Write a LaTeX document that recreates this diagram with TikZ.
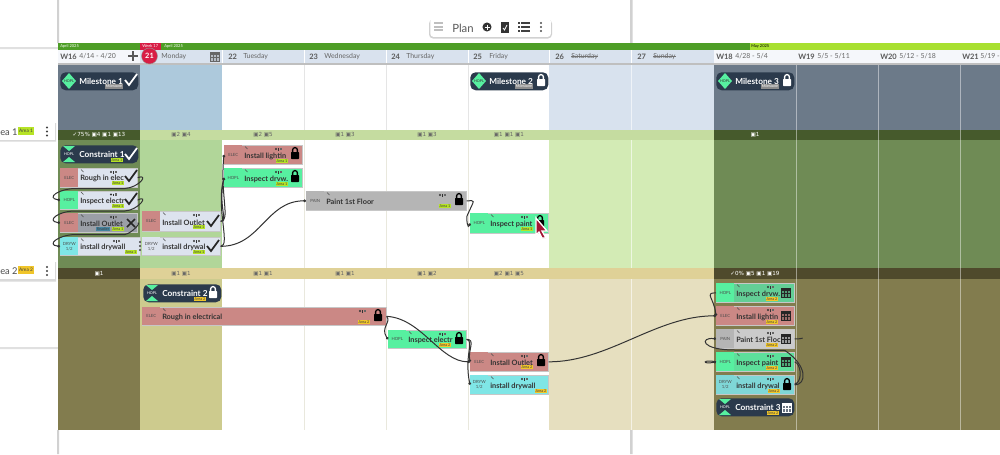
\documentclass[tikz,border=0pt]{standalone}
\usepackage{fontspec}
\setmainfont{Lato}
\newfontfamily\dv{DejaVu Sans}
\definecolor{gM}{HTML}{6C7A89}\definecolor{gB}{HTML}{465A2C}\definecolor{gR}{HTML}{6F8B55}\definecolor{gC}{HTML}{4F4A2C}\definecolor{gS}{HTML}{827C4E}
\definecolor{mM}{HTML}{ADC9DC}\definecolor{lB}{HTML}{C5DCA0}\definecolor{mR}{HTML}{B1D699}\definecolor{lC}{HTML}{DFD197}\definecolor{mS}{HTML}{CDCB8E}
\definecolor{wM}{HTML}{D8E2EE}\definecolor{wR}{HTML}{D3EBB5}\definecolor{wS}{HTML}{E6DFBF}
\definecolor{navy}{HTML}{2B3A4C}\definecolor{elec}{HTML}{CB8885}\definecolor{hopl}{HTML}{57F0A0}\definecolor{pain}{HTML}{B5B5B5}\definecolor{dryw}{HTML}{7FE6E6}\definecolor{body}{HTML}{DDE3EE}
\definecolor{pillG}{HTML}{B6E326}\definecolor{pillY}{HTML}{F0C52A}\definecolor{bar}{HTML}{4E9E27}\definecolor{barL}{HTML}{A8E030}\definecolor{hdr}{HTML}{D9E2EE}\definecolor{hdrW}{HTML}{F5F7FB}\definecolor{redd}{HTML}{D81E45}
\usetikzlibrary{arrows.meta}
\tikzset{
 card/.style={anchor=north west,inner sep=0pt,draw=black!22,line width=.5pt},
 headbox/.style={anchor=north west,inner sep=0pt,align=center,font=\fontsize{3.2}{3.8}\selectfont,text=black!70},
 ttl/.style={anchor=west,inner sep=0pt,font=\fontsize{5.5}{7}\selectfont\bfseries,text=black!80},
 wttl/.style={anchor=west,inner sep=0pt,font=\fontsize{6.2}{7}\selectfont\bfseries,text=white},
 pillbox/.style={inner sep=.5pt,font=\fontsize{2.8}{3.2}\selectfont,text=black!75,minimum height=3.6pt},
 bigpill/.style={inner sep=1pt,font=\fontsize{3.6}{4}\selectfont,text=black!75,minimum height=6pt},
 stat/.style={inner sep=0pt,font=\dv\fontsize{4.2}{5}\selectfont},
 link/.style={draw=black!80,line width=.75pt,-{Circle[length=2pt]}},
 plainlink/.style={draw=black!80,line width=.75pt},
 hd/.style={anchor=west,inner sep=0pt,font=\fontsize{5.2}{6}\selectfont,text=black!60},
 hdb/.style={anchor=west,inner sep=0pt,font=\fontsize{5.6}{6}\selectfont\bfseries,text=black!65},
 tiny/.style={anchor=west,inner sep=0pt,font=\fontsize{3}{4}\selectfont},
}
\newcommand{\lockic}[3]{\fill[#3,rounded corners=.5pt] (#1-4,#2-1) rectangle (#1+4,#2+6);\draw[#3,line width=1pt] (#1-2.4,#2-1) -- (#1-2.4,#2-3) arc[start angle=180,end angle=0,radius=1.8pt] -- (#1+2.4,#2-1);}
\newcommand{\checkic}[3]{\draw[#3,line width=1.3pt] (#1-6,#2) -- (#1-2,#2+5) -- (#1+6,#2-6);}
\newcommand{\crossic}[2]{\draw[black!85,line width=1.3pt] (#1-4,#2-4) -- (#1+4,#2+4) (#1-4,#2+4) -- (#1+4,#2-4);}
\newcommand{\calic}[3]{\draw[#3,line width=.6pt,fill=#3,fill opacity=.3] (#1-4.5,#2-4) rectangle (#1+4.5,#2+5);\fill[#3] (#1-4.5,#2-4) rectangle (#1+4.5,#2-1.5);\draw[#3,line width=.4pt] (#1-4.5,#2+1) -- (#1+4.5,#2+1) (#1-1.5,#2-1.5) -- (#1-1.5,#2+5) (#1+1.5,#2-1.5) -- (#1+1.5,#2+5);}
\newcommand{\threedots}[3]{\fill[#3] (#1,#2-4) circle (.9pt) (#1,#2) circle (.9pt) (#1,#2+4) circle (.9pt);}
% name x y w h headcolor bodycolor code title
\newcommand{\tcard}[9]{%
 \node[card,fill=#7,minimum width={#4*0.75pt},minimum height={#5*0.75pt}] (#1) at (#2,#3) {};
 \node[headbox,fill=#6,minimum width=13.5pt,minimum height={#5*0.75pt}] (#1h) at (#2,#3) {#8};
 \node[ttl] (#1t) at (#2+20,#3+#5*0.58) {#9};
 \draw[black!70,line width=.3pt] (#2+21,#3+1.5) -- +(2.5,2.5);
 \fill[black!80] (#2+#4-26,#3+4) circle (.9pt);
 \draw[black!80,line width=.4pt] (#2+#4-24,#3+3) -- +(0,2.5);
 \fill[black!60] (#2+#4-22.5,#3+2.5) rectangle +(2.5,2.5);
}
\newcommand{\pillN}[5]{\node[pillbox,fill=#3] (#5) at (#1,#2) {#4};}
\newcommand{\miles}[5]{%
 \node[anchor=north west,inner sep=0pt,fill=navy,rounded corners=4pt,minimum width=58.5pt,minimum height=13.5pt] (#1) at (#2,#3) {};
 \fill[hopl] (#2+9,#3+1) -- (#2+16,#3+9) -- (#2+9,#3+17) -- (#2+2,#3+9) -- cycle;
 \node[inner sep=0pt,font=\fontsize{2.8}{3}\selectfont,text=black!80] (#1c) at (#2+9,#3+9) {HOPL};
 \node[wttl] (#1t) at (#2+19,#3+9) {#4};
 \node[pillbox,fill=black!45,text=white] (#1p) at (#2+54,#3+14.5) {Milestone};
}
\newcommand{\constr}[6]{%
 \node[anchor=north west,inner sep=0pt,fill=navy,rounded corners=4pt,minimum width=58.5pt,minimum height=13.5pt] (#1) at (#2,#3) {};
 \fill[hopl] (#2+3,#3+1) -- (#2+15,#3+1) -- (#2+9,#3+6) -- cycle (#2+3,#3+17) -- (#2+15,#3+17) -- (#2+9,#3+12) -- cycle;
 \node[inner sep=0pt,font=\fontsize{2.8}{3}\selectfont,text=white] (#1c) at (#2+9,#3+9) {HOPL};
 \node[wttl] (#1t) at (#2+19,#3+9) {#4};
 \node[pillbox,fill=#6] (#1p) at (#2+57,#3+15) {#5};
}
\begin{document}
\begin{tikzpicture}[x=0.75pt,y=-0.75pt]
\useasboundingbox (0,0) rectangle (1000,454);
\fill[white] (0,0) rectangle (1000,454);
% frame lines
\fill[black!18] (57,0) rectangle (59,43) (57,430) rectangle (59,454);
\fill[black!18] (630,0) rectangle (632.5,43) (630,430) rectangle (632.5,454);
\fill[black!12] (0,47) rectangle (58,49) (0,347) rectangle (58,349);
% column fills: milestone, band, row, band, row
\fill[gM] (58,64) rectangle (140,130);\fill[gB] (58,130) rectangle (140,140);\fill[gR] (58,140) rectangle (140,268);\fill[gC] (58,268) rectangle (140,279);\fill[gS] (58,279) rectangle (140,430);
\fill[mM] (140,64) rectangle (222,130);\fill[lB] (140,130) rectangle (714,140);\fill[mR] (140,140) rectangle (222,268);\fill[lC] (140,268) rectangle (714,279);\fill[mS] (140,279) rectangle (222,430);
\fill[wM] (549,64) rectangle (714,130);\fill[wR] (549,140) rectangle (714,268);\fill[wS] (549,279) rectangle (714,430);
\fill[gM] (714,64) rectangle (1000,130);\fill[gB] (714,130) rectangle (1000,140);\fill[gR] (714,140) rectangle (1000,268);\fill[gC] (714,268) rectangle (1000,279);\fill[gS] (714,279) rectangle (1000,430);
\foreach \x in {304,386,468}{\draw[black!10,line width=.5pt] (\x,64) -- (\x,130);\draw[yellow!35!black!15,line width=.5pt] (\x,140) -- (\x,268) (\x,279) -- (\x,430);}
\draw[white,line width=.3pt,opacity=.6] (631,64) -- (631,130) (631,140) -- (631,268) (631,279) -- (631,430);
\foreach \x in {796,878,960}{\draw[white,line width=.7pt,opacity=.45] (\x,64) -- (\x,430);}
% month bar and header
\fill[bar] (58,43) rectangle (750,49.5);\fill[barL] (750,43) rectangle (1000,49.5);\fill[redd] (140,43) rectangle (161,49.5);
\node[tiny,text=white] (m1) at (60,46.2) {April 2025};
\node[tiny,text=white] (wk) at (142,46.2) {Week 17};
\node[tiny,text=white] (m2) at (164,46.2) {April 2025};
\node[tiny,text=black] (m3) at (751,46.2) {May 2025};
\fill[hdrW] (58,50) rectangle (140,63);\fill[hdr] (140,50) rectangle (714,63);\fill[hdrW] (714,50) rectangle (1000,63);
\fill[black!25] (58,63) rectangle (1000,64.5);
\foreach \x in {222,304,386,468,549,631}{\draw[white,line width=.4pt] (\x,50) -- (\x,63);}
\node[hdb] (w16) at (60,56.5) {W16};\node[hd] (w16d) at (79,56.5) {4/14 - 4/20};
\draw[black!65,line width=.9pt] (128,56) -- (138,56) (133,51) -- (133,61);
\node[hd] (d21) at (161,56.5) {Monday};
\calic{215}{56}{black!60}
\node[hdb] (n22) at (228,56.5) {22};\node[hd] (d22) at (243,56.5) {Tuesday};
\node[hdb] (n23) at (309,56.5) {23};\node[hd] (d23) at (324,56.5) {Wednesday};
\node[hdb] (n24) at (391,56.5) {24};\node[hd] (d24) at (406,56.5) {Thursday};
\node[hdb] (n25) at (473,56.5) {25};\node[hd] (d25) at (489,56.5) {Friday};
\node[hdb] (n26) at (555,56.5) {26};\node[hd] (d26) at (571,56.5) {Saturday};
\node[hdb] (n27) at (637,56.5) {27};\node[hd] (d27) at (653,56.5) {Sunday};
\draw[black!55,line width=.3pt] (d26.west) -- (d26.east) (d27.west) -- (d27.east);
\node[hdb] (w18) at (716,56.5) {W18};\node[hd] (w18d) at (735,56.5) {4/28 - 5/4};
\node[hdb] (w19) at (798,56.5) {W19};\node[hd] (w19d) at (817,56.5) {5/5 - 5/11};
\node[hdb] (w20) at (880,56.5) {W20};\node[hd] (w20d) at (899,56.5) {5/12 - 5/18};
\node[hdb] (w21) at (962,56.5) {W21};\node[hd] (w21d) at (980,56.5) {5/19 -};
\node[circle,fill=redd,draw=black!40,line width=.3pt,minimum size=12pt,inner sep=0pt,text=white,font=\fontsize{5.5}{6}\selectfont\bfseries] (today) at (149.5,56) {21};
% band labels
\foreach \x/\y/\tx/\cl in {99/135/✓75\% ▣4 ▣1 ▣13/white!75,181/135/▣2 ▣4/black!60,263/135/▣2 ▣5/black!60,345/135/▣1 ▣3/black!60,427/135/▣1 ▣3/black!60,509/135/▣1 ▣1 ▣1/black!60,755/135/▣1/white!75,
 99/274/▣1/white!75,181/274/▣1 ▣1/black!60,263/274/▣1 ▣1/black!60,345/274/▣1 ▣1/black!60,427/274/▣1 ▣2/black!60,509/274/▣2 ▣1 ▣5/black!60,755/274/✓0\% ▣5 ▣1 ▣19/white!75}
 {\node[stat,text=\cl] at (\x,\y) {\tx};}
% toolbar
\fill[black!18,rounded corners=3pt] (429,19.5) rectangle (552,38.5);
\node[anchor=north west,inner sep=0pt,fill=white,rounded corners=2.5pt,minimum width=90.5pt,minimum height=14pt] (tool) at (430,18) {};
\foreach \y in {23,27,30}{\draw[black!25,line width=.8pt] (434,\y) -- (443,\y);}
\node[anchor=west,inner sep=0pt,font=\fontsize{8.5}{9}\selectfont,text=black!65] (plan) at (452,28) {Plan};
\fill[black!80] (487,27) circle (3.4pt);\draw[white,line width=.6pt] (484.5,27) -- (489.5,27) (487,24.5) -- (487,29.5);
\fill[black!80] (501,22) rectangle (509,33);\draw[white,line width=.6pt] (503,28) -- (504.5,30) -- (507,25);
\foreach \y in {23,27,31}{\fill[black!75] (518,\y-.8) rectangle (519.8,\y+.8);\fill[black!75] (521,\y-.7) rectangle (530,\y+.7);}
\threedots{541}{27}{black!70}
% left area cards
\fill[black!15] (0,123) rectangle (56,141.5) (0,262) rectangle (56,281.5);
\node[anchor=north west,inner sep=0pt,fill=white,minimum width=41pt,minimum height=13pt] (a1) at (0,122) {};
\node[anchor=north west,inner sep=0pt,fill=white,minimum width=41pt,minimum height=13.5pt] (a2) at (0,261) {};
\node[anchor=west,inner sep=0pt,font=\fontsize{7}{8}\selectfont,text=black!70] (a1t) at (0,132) {ea 1};
\node[anchor=west,inner sep=0pt,font=\fontsize{7}{8}\selectfont,text=black!70] (a2t) at (0,271) {ea 2};
\node[bigpill,fill=pillG] (a1p) at (26,131) {Area 1};
\node[bigpill,fill=pillY] (a2p) at (26,270) {Area 2};
\threedots{47}{131.5}{black!75}\threedots{47}{271}{black!75}
% milestones
\miles{ms1}{60}{72}{Milestone 1}{}\checkic{131}{80}{white}
\miles{ms2}{470}{72}{Milestone 2}{}\lockic{541}{80}{white}
\miles{ms3}{716}{72}{Milestone 3}{}\lockic{787}{80}{white}
% Area 1
\constr{c1}{60}{145}{Constraint 1}{Area 1}{pillG}\checkic{131}{154}{white}
\tcard{r1}{60}{168}{77}{18.5}{elec}{body}{ELEC}{Rough in elec}\checkic{131}{176}{black!85}\pillN{118}{183}{pillG}{Area 1}{r1p}
\tcard{i1}{60}{190.5}{77}{18.5}{hopl}{body}{HOPL}{Inspect electr}\checkic{131}{199}{black!85}\pillN{118}{206}{pillG}{Area 1}{i1p}
\tcard{o1}{60}{213}{77}{19}{elec}{black!30!body}{ELEC}{Install Outlet}\crossic{131}{223}\pillN{118}{229}{pillG}{Area 1}{o1p}\pillN{103}{229}{cyan!60!black}{Readier}{o1q}
\tcard{d1}{60}{237}{80}{18}{dryw}{body}{DRYW\\1/2}{install drywall}\pillN{131}{252}{pillG}{Area 1}{d1p}\threedots{140}{246}{black!75}
\tcard{o2}{142}{211}{78}{20}{elec}{body}{ELEC}{Install Outlet}\checkic{213}{221}{black!85}\pillN{199}{227}{pillG}{Area 1}{o2p}
\tcard{d2}{142}{237}{78}{18}{body}{body}{DRYW\\1/2}{install drywal}\checkic{213}{246}{black!85}\pillN{199}{252}{pillG}{Area 1}{d2p}
\tcard{l1}{224}{145}{78}{19}{elec}{elec}{ELEC}{Install lightin}\lockic{295}{153}{black}\pillN{282}{161}{pillG}{Area 1}{l1p}
\tcard{v1}{224}{168}{78}{19}{hopl}{hopl}{HOPL}{Inspect drvw.}\lockic{295}{176}{black}\pillN{282}{184}{pillG}{Area 1}{v1p}
\tcard{p1}{306}{191}{160}{19}{pain}{pain}{PAIN}{Paint 1st Floor}\lockic{459}{199}{black}\pillN{445}{206}{pillG}{Area 1}{p1p}
\tcard{q1}{470}{213}{78}{20}{hopl}{hopl}{HOPL}{Inspect paint}\lockic{540}{221}{black}\pillN{527}{229}{pillG}{Area 1}{q1p}
% Area 2
\constr{c2}{143}{284}{Constraint 2}{Area 2}{pillY}\lockic{213}{292}{white}
\tcard{r2}{142}{307}{244}{18}{elec}{elec}{ELEC}{Rough in electrical}\lockic{378}{315}{black}\pillN{364}{322}{pillY}{Area 2}{r2p}
\tcard{i2}{388}{330}{78}{18}{hopl}{hopl}{HOPL}{Inspect electr}\lockic{459}{338}{black}\pillN{445}{345}{pillY}{Area 2}{i2p}
\tcard{o3}{470}{352}{78}{19}{elec}{elec}{ELEC}{Install Outlet}\lockic{541}{360}{black}\pillN{527}{367}{pillY}{Area 2}{o3p}
\tcard{d3}{470}{375}{78}{19}{dryw}{dryw}{DRYW\\1/2}{install drywall}\pillN{541}{391}{pillY}{Area 2}{d3p}
% W18 stack
\tcard{a}{716}{283}{78}{19}{hopl}{hopl!70!gray}{HOPL}{Inspect drvw.}\calic{786}{292}{black!85}\pillN{772}{299}{pillY}{Area 2}{ap}
\tcard{b}{716}{306}{78}{19}{elec}{elec}{ELEC}{Install lightin}\calic{786}{315}{black!85}\pillN{772}{322}{pillY}{Area 2}{bp}
\tcard{e}{716}{329}{78}{19}{pain}{pain!70!white}{PAIN}{Paint 1st Floc}\calic{786}{338}{black!85}\pillN{772}{345}{pillY}{Area 2}{ep}
\tcard{f}{716}{352}{78}{19}{hopl}{hopl!85!gray}{HOPL}{Inspect paint}\calic{786}{361}{black!85}\pillN{772}{368}{pillY}{Area 2}{fp}
\tcard{g}{716}{375}{78}{19}{dryw!85!gray}{dryw!85!gray}{DRYW\\1/2}{install drywal}\lockic{787}{384}{black}\pillN{774}{391}{pillY}{Area 2}{gp}
\constr{c3}{716}{398}{Constraint 3}{Area 2}{pillY}\calic{787}{407}{white}
% connectors
\draw[link] (r1.east) .. controls +(12,-4) and +(14,-1) .. (125,188.5) -- (75,188.5) .. controls (58,189) and (46,198) .. (i1.west);
\draw[link] (i1.east) .. controls +(12,-6) and +(14,-1) .. (125,211) -- (75,211) .. controls (58,211) and (46,221) .. (o1.west);
\draw[link] (o1.east) .. controls +(4,0) and +(6,-1) .. (125,234.5) -- (75,234.5) .. controls (58,235) and (46,245) .. (d1.west);
\draw[link] (o2.east) .. controls +(10,0) and +(-4,40) .. (l1.west);
\draw[link] (o2.east) .. controls +(8,0) and +(-6,30) .. (v1.west);
\draw[link] (d2.east) .. controls +(10,0) and +(-8,30) .. (v1.west);
\draw[link] (d2.east) .. controls +(40,0) and +(-40,0) .. (p1.west);
\draw[link] (p1.east) .. controls +(9,0) and +(8,-18) .. (467,216) .. controls +(-1,3) and +(-2,7) .. (q1.west);
\draw[link] (r2.east) .. controls +(5,6) and +(-8,-12) .. (i2.west);
\draw[link] (r2.east) .. controls +(35,2) and +(-30,0) .. (o3.west);
\draw[link] (i2.east) .. controls +(9,0) and +(-2,-12) .. (o3.west);
\draw[link] (i2.east) .. controls +(8,2) and +(-6,-30) .. (d3.west);
\draw[link] (o3.east) .. controls +(60,0) and +(-60,0) .. (b.west);
\draw[link] (a.west) .. controls +(-12,0) and +(-2,-18) .. (b.west);
\draw[link] (g.east) .. controls +(12,0) and (808,366) .. (785,350.5) -- (735,350) .. controls (700,350) and (700,337) .. (e.west);
\draw[plainlink] (e.east) .. controls +(3,0) and +(-3,1) .. ([xshift=6pt,yshift=.5pt]e.east);
\draw[link] (f.west) .. controls +(-14,-3) and +(-14,3) .. (f.west);
\draw[link] (f.east) .. controls +(6,2) and +(8,-6) .. (g.east);
% cursor
\draw[white,line width=1pt,fill=redd!75!black] (536,218) -- (547,231) -- (542,231) -- (546,238) -- (542,238) -- (539,232) -- (536,235) -- cycle;
\end{tikzpicture}
\end{document}
